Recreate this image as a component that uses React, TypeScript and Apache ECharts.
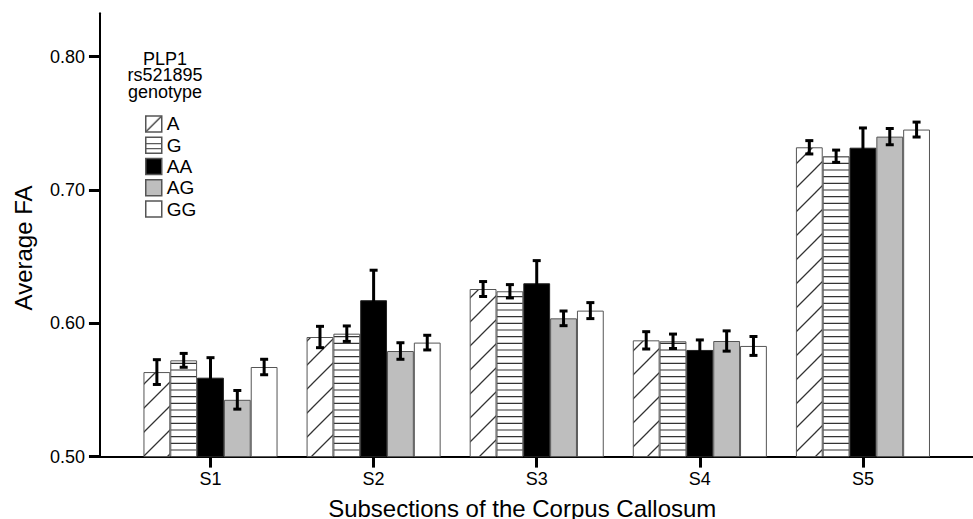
import React, { useEffect, useRef } from 'react';
import * as echarts from 'echarts';

const categories = ['S1', 'S2', 'S3', 'S4', 'S5'];
const genotypes = ['A', 'G', 'AA', 'AG', 'GG'];
const meanA = [0.5634, 0.5897, 0.6257, 0.5872, 0.732];
const meanG = [0.5722, 0.5922, 0.624, 0.5865, 0.7253];
const meanAA = [0.5592, 0.6173, 0.63, 0.58, 0.7317];
const meanAG = [0.5426, 0.5792, 0.6037, 0.5867, 0.74];
const meanGG = [0.5672, 0.5855, 0.6095, 0.583, 0.7453];
const errA = [0.0093, 0.008, 0.0056, 0.0065, 0.005];
const errG = [0.0052, 0.0058, 0.005, 0.0054, 0.0046];
const errAA = [0.015, 0.0225, 0.017, 0.0075, 0.0148];
const errAG = [0.007, 0.0062, 0.0055, 0.0076, 0.0061];
const errGG = [0.0058, 0.0055, 0.006, 0.0071, 0.0056];
const yTicks = [0.5, 0.6, 0.7, 0.8];

const means = [meanA, meanG, meanAA, meanAG, meanGG];
const errs = [errA, errG, errAA, errAG, errGG];

const FONT = '"Liberation Sans", Arial, Helvetica, sans-serif';
const GAP = 0.178;

function diagPattern(size: number) {
  const c = document.createElement('canvas');
  c.width = size;
  c.height = size;
  const ctx = c.getContext('2d')!;
  ctx.fillStyle = '#fff';
  ctx.fillRect(0, 0, size, size);
  ctx.strokeStyle = '#333';
  ctx.lineWidth = 1.3;
  ctx.beginPath();
  ctx.moveTo(-2, size + 2);
  ctx.lineTo(size + 2, -2);
  ctx.moveTo(-2, 2);
  ctx.lineTo(2, -2);
  ctx.moveTo(size - 2, size + 2);
  ctx.lineTo(size + 2, size - 2);
  ctx.stroke();
  return { image: c, repeat: 'repeat' };
}

function horizPattern(size: number, ys: number[]) {
  const c = document.createElement('canvas');
  c.width = size;
  c.height = size;
  const ctx = c.getContext('2d')!;
  ctx.fillStyle = '#fff';
  ctx.fillRect(0, 0, size, size);
  ctx.strokeStyle = '#333';
  ctx.lineWidth = 1.2;
  ctx.beginPath();
  ys.forEach((y) => {
    ctx.moveTo(0, y);
    ctx.lineTo(size, y);
  });
  ctx.stroke();
  return { image: c, repeat: 'repeat' };
}

export default function App() {
  const ref = useRef<HTMLDivElement>(null);
  useEffect(() => {
    document.body.style.margin = '0';
    const chart = echarts.init(ref.current!, undefined, { renderer: 'svg' });
    const fills: any[] = [diagPattern(24), horizPattern(20, [3.3, 10, 16.7]), '#000000', '#bebebe', '#ffffff'];
    const legendFills: any[] = [diagPattern(16), horizPattern(16, [6.5, 11.5]), '#000000', '#bebebe', '#ffffff'];
    const borders = ['#555', '#555', '#222', '#555', '#555'];

    const barSeries = genotypes.map((g, i) => ({
      name: g,
      type: 'bar',
      xAxisIndex: 0,
      yAxisIndex: 0,
      data: means[i],
      barGap: '0%',
      barCategoryGap: GAP * 100 + '%',
      itemStyle: { color: fills[i], borderColor: borders[i], borderWidth: 1 },
      emphasis: { disabled: true },
    }));

    const errData: number[][] = [];
    genotypes.forEach((_, gi) => {
      categories.forEach((_, ci) => {
        errData.push([ci, means[gi][ci] - errs[gi][ci], means[gi][ci] + errs[gi][ci], gi]);
      });
    });

    const option: any = {
      animation: false,
      grid: [
        { left: 128.95, right: 28.5, top: 13.3, bottom: 62.4, outerBoundsMode: 'none', containLabel: false },
        { left: 100, right: 0, top: 13.3, bottom: 62.4, outerBoundsMode: 'none', containLabel: false },
      ],
      xAxis: [
        {
          type: 'category',
          gridIndex: 0,
          data: categories,
          axisLine: { show: false },
          axisTick: { show: true, alignWithLabel: true, length: 11, lineStyle: { width: 3, color: '#000' } },
          axisLabel: { margin: 13, fontSize: 18, color: '#000', fontFamily: FONT },
          splitLine: { show: false },
          name: 'Subsections of the Corpus Callosum',
          nameLocation: 'middle',
          nameGap: 40,
          nameTextStyle: { fontSize: 24, color: '#000', fontFamily: FONT, padding: [0, 29, 0, 0] },
        },
        {
          type: 'value',
          gridIndex: 1,
          min: 0,
          max: 1,
          axisLine: { show: true, lineStyle: { color: '#000', width: 2 } },
          axisTick: { show: false },
          axisLabel: { show: false },
          splitLine: { show: false },
        },
      ],
      yAxis: [
        {
          type: 'value',
          gridIndex: 0,
          min: 0.5,
          max: 0.8325,
          offset: 29,
          axisLine: { show: true, lineStyle: { color: '#000', width: 2 } },
          axisTick: { show: true, customValues: yTicks, length: 11, lineStyle: { width: 3, color: '#000' } },
          axisLabel: {
            customValues: yTicks,
            formatter: (v: number) => v.toFixed(2),
            margin: 15,
            fontSize: 18,
            color: '#000',
            fontFamily: FONT,
          },
          splitLine: { show: false },
          name: 'Average FA',
          nameLocation: 'middle',
          nameRotate: 90,
          nameGap: 64,
          nameTextStyle: { fontSize: 24, color: '#000', fontFamily: FONT, padding: [0, 26, 0, 0] },
        },
        {
          type: 'value',
          gridIndex: 1,
          min: 0,
          max: 1,
          show: false,
        },
      ],
      legend: {
        orient: 'vertical',
        left: 145,
        top: 113.4,
        padding: 0,
        itemWidth: 16,
        itemHeight: 16,
        itemGap: 0.3,
        icon: 'rect',
        selectedMode: false,
        data: genotypes.map((g, i) => ({
          name: g,
          itemStyle: { color: legendFills[i], borderColor: '#555', borderWidth: 1.5 },
        })),
        textStyle: { fontSize: 19, lineHeight: 21, color: '#000', fontFamily: FONT },
      },
      graphic: [
        {
          type: 'text',
          x: 165,
          y: 50.5,
          style: {
            text: 'PLP1\nrs521895\ngenotype',
            textAlign: 'center',
            fontSize: 18,
            lineHeight: 16.5,
            fontFamily: FONT,
            fill: '#000',
          },
        },
      ],
      series: [
        ...barSeries,
        {
          name: 'error',
          type: 'custom',
          xAxisIndex: 0,
          yAxisIndex: 0,
          z: 10,
          data: errData,
          encode: { x: 0, y: [1, 2] },
          renderItem: (params: any, api: any) => {
            const cat = api.value(0);
            const g = api.value(3);
            const lo = api.coord([cat, api.value(1)]);
            const hi = api.coord([cat, api.value(2)]);
            const band = api.size([1, 0])[0];
            const bw = (band * (1 - GAP)) / 5;
            const x = lo[0] + (g - 2) * bw;
            const cap = 4;
            const st = { stroke: '#000', lineWidth: 3 };
            return {
              type: 'group',
              children: [
                { type: 'line', shape: { x1: x, y1: lo[1], x2: x, y2: hi[1] }, style: st },
                { type: 'line', shape: { x1: x - cap, y1: lo[1], x2: x + cap, y2: lo[1] }, style: st },
                { type: 'line', shape: { x1: x - cap, y1: hi[1], x2: x + cap, y2: hi[1] }, style: st },
              ],
            };
          },
        },
      ],
    };
    chart.setOption(option);
    return () => chart.dispose();
  }, []);
  return <div ref={ref} style={{ width: 973, height: 519 }} />;
}
